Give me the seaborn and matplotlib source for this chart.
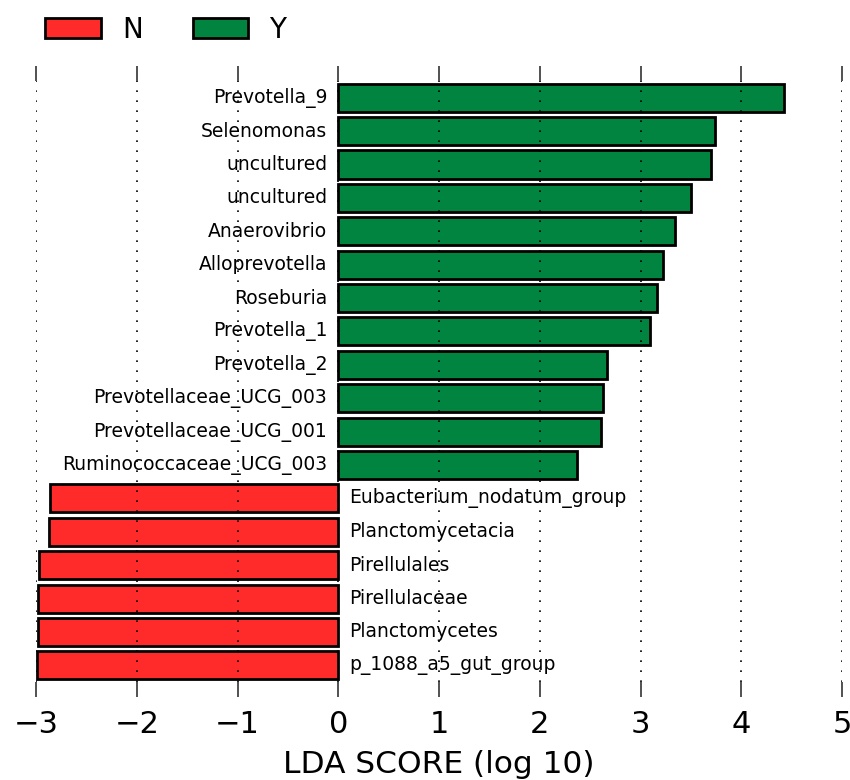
import matplotlib
matplotlib.use("Agg")
import matplotlib.pyplot as plt
import matplotlib.patches as mpatches
import seaborn as sns
import pandas as pd

# Features ranked top to bottom
features = [
    "Prevotella_9", "Selenomonas", "uncultured", "uncultured", "Anaerovibrio",
    "Alloprevotella", "Roseburia", "Prevotella_1", "Prevotella_2",
    "Prevotellaceae_UCG_003", "Prevotellaceae_UCG_001", "Ruminococcaceae_UCG_003",
    "Eubacterium_nodatum_group", "Planctomycetacia", "Pirellulales",
    "Pirellulaceae", "Planctomycetes", "p_1088_a5_gut_group",
]
# Signed LDA scores (negative = enriched in N)
lda_scores = [
    4.42, 3.74, 3.70, 3.50, 3.34, 3.22, 3.16, 3.09, 2.67, 2.63, 2.61, 2.37,
    -2.86, -2.87, -2.97, -2.98, -2.98, -2.99,
]
groups = ["Y"] * 12 + ["N"] * 6
group_order = ["N", "Y"]
group_colors = {"N": "#ff2a2a", "Y": "#00843f"}
x_ticks = [-3, -2, -1, 0, 1, 2, 3, 4, 5]

sns.set_style("white")
plt.rcParams["font.family"] = ["DejaVu Sans"]
plt.rcParams["text.color"] = "black"
plt.rcParams["xtick.color"] = "black"
plt.rcParams["axes.labelcolor"] = "black"

df = pd.DataFrame({
    "rank": [str(i) for i in range(len(features))],
    "feature": features,
    "lda": lda_scores,
    "group": groups,
})

fig = plt.figure(figsize=(8.5, 7.8), dpi=100)
ax = fig.add_axes([0.0424, 0.1256, 0.9482, 0.7705])

sns.barplot(
    data=df, x="lda", y="rank", hue="group", hue_order=group_order,
    palette=group_colors, order=df["rank"].tolist(), dodge=False,
    orient="h", width=0.84, edgecolor="black", linewidth=2, saturation=1,
    legend=False, ax=ax, zorder=1,
)

# Feature names next to the zero line
for i, (name, val) in enumerate(zip(features, lda_scores)):
    if val >= 0:
        ax.text(-0.11, i, name, ha="right", va="center", fontsize=13.5)
    else:
        ax.text(0.11, i, name, ha="left", va="center", fontsize=13.5)

ax.set_xlim(-3, 5)
ax.set_ylim(len(features) - 0.5, -0.5)
ax.set_xticks(x_ticks)
ax.set_xticklabels([f"{t}".replace("-", "\u2212") for t in x_ticks], fontsize=22)
ax.set_yticks([])
ax.set_ylabel("")
ax.set_xlabel("LDA SCORE (log 10)", fontsize=22.5, labelpad=8)
ax.tick_params(axis="x", which="both", direction="out", length=11, width=1.2,
               color="#333333", top=True, bottom=True, labeltop=False, pad=9)
for s in ax.spines.values():
    s.set_visible(False)
ax.grid(False)
for t in x_ticks:
    ax.axvline(t, color="black", linestyle=(0, (1, 5)), linewidth=1.2, zorder=3)

handles = [mpatches.Patch(facecolor=group_colors[g], edgecolor="black",
                          linewidth=2, label=g) for g in group_order]
fig.legend(handles=handles, loc="upper left", bbox_to_anchor=(0.024, 1.012),
           ncol=2, frameon=False, fontsize=20, handlelength=2.0,
           handleheight=0.72, columnspacing=1.8, handletextpad=0.75)

fig.savefig("out.png", dpi=100, facecolor="white")
